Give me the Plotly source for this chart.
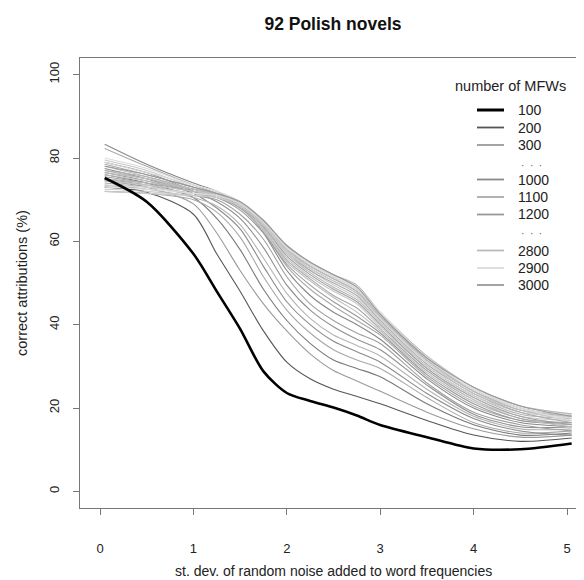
import plotly.graph_objects as go

# ---------------- data ----------------
noise_sd = [0.05, 0.5, 1.0, 1.25, 1.5, 1.75, 2.0, 2.25, 2.5, 2.75, 3.0, 3.5, 4.0, 4.5, 5.05]

acc_100 = [75.2, 69.5, 57.0, 48.0, 39.0, 28.8, 23.6, 21.7, 20.1, 18.2, 15.9, 13.0, 10.3, 10.1, 11.5]
acc_200 = [73.0, 71.8, 66.5, 57.0, 48.0, 38.5, 31.0, 27.0, 24.5, 22.8, 21.0, 17.0, 13.5, 12.0, 12.8]
acc_300 = [74.5, 73.0, 69.0, 62.0, 53.0, 45.0, 38.5, 33.0, 29.0, 26.5, 24.0, 19.0, 15.0, 13.0, 13.5]
acc_400 = [76.0, 74.0, 70.5, 65.5, 58.0, 48.5, 41.0, 35.5, 31.5, 29.5, 27.5, 21.0, 16.0, 13.5, 14.0]
acc_500 = [72.0, 71.5, 70.0, 67.0, 61.0, 51.5, 43.5, 38.0, 34.0, 31.5, 29.5, 22.5, 16.5, 14.0, 14.5]
acc_600 = [77.5, 75.0, 71.5, 68.0, 63.0, 54.0, 45.5, 40.0, 36.0, 33.5, 31.0, 23.5, 17.5, 14.5, 13.5]
acc_700 = [73.5, 72.5, 70.5, 68.5, 64.0, 56.0, 47.5, 41.5, 37.5, 35.0, 32.5, 24.5, 18.0, 15.0, 15.0]
acc_800 = [79.0, 76.5, 72.0, 69.5, 65.5, 58.5, 49.5, 43.5, 39.5, 36.5, 34.0, 25.5, 18.5, 15.5, 15.5]
acc_900 = [75.0, 73.5, 71.0, 70.0, 66.5, 60.5, 51.5, 45.0, 41.0, 38.0, 35.5, 26.0, 19.0, 16.0, 14.5]
acc_1000 = [83.3, 78.5, 74.0, 72.0, 68.5, 62.0, 53.0, 47.0, 43.0, 40.0, 36.5, 27.0, 20.0, 16.5, 15.5]
acc_1100 = [82.3, 78.0, 73.5, 71.5, 68.5, 62.5, 54.0, 48.5, 44.5, 41.0, 37.5, 27.5, 20.5, 17.0, 16.0]
acc_1200 = [76.5, 74.5, 72.0, 70.5, 67.5, 62.0, 54.5, 49.5, 45.5, 42.0, 38.0, 28.0, 21.0, 17.0, 16.5]
acc_1300 = [78.0, 75.5, 72.5, 71.0, 68.0, 62.5, 55.0, 50.5, 46.5, 43.0, 38.5, 28.5, 21.5, 17.5, 15.5]
acc_1400 = [74.0, 73.0, 71.5, 70.5, 68.0, 63.0, 55.5, 51.0, 47.0, 44.0, 39.0, 29.0, 22.0, 17.5, 16.5]
acc_1500 = [79.5, 77.0, 73.0, 71.5, 68.5, 63.0, 56.0, 51.5, 48.0, 45.0, 39.5, 29.5, 22.0, 18.0, 17.0]
acc_1600 = [75.5, 74.0, 72.0, 71.0, 68.5, 63.5, 56.5, 52.0, 48.5, 45.5, 40.0, 29.5, 22.5, 18.0, 16.0]
acc_1700 = [77.0, 75.5, 72.5, 71.5, 69.0, 63.5, 57.0, 52.5, 49.0, 46.0, 40.5, 30.0, 23.0, 18.5, 17.5]
acc_1800 = [72.5, 72.0, 71.0, 70.5, 68.5, 64.0, 57.0, 53.0, 49.5, 46.5, 40.5, 30.0, 23.0, 19.0, 18.0]
acc_1900 = [78.5, 76.0, 73.0, 71.5, 69.0, 64.0, 57.5, 53.0, 50.0, 47.0, 41.0, 30.5, 23.5, 19.0, 16.5]
acc_2000 = [76.0, 74.5, 72.5, 71.0, 69.0, 64.5, 58.0, 53.5, 50.5, 47.5, 41.5, 31.0, 23.5, 19.5, 17.0]
acc_2100 = [73.5, 73.0, 71.5, 71.0, 69.0, 64.5, 58.0, 54.0, 51.0, 48.0, 41.5, 31.0, 24.0, 19.5, 18.5]
acc_2200 = [77.0, 75.0, 72.5, 71.5, 69.5, 65.0, 58.5, 54.0, 51.0, 48.0, 42.0, 31.5, 24.0, 20.0, 17.5]
acc_2300 = [74.5, 73.5, 72.0, 71.0, 69.0, 64.5, 58.5, 54.5, 51.5, 48.5, 42.0, 31.5, 24.5, 20.0, 18.0]
acc_2400 = [79.0, 76.5, 73.5, 72.0, 69.5, 65.0, 59.0, 55.0, 52.0, 49.0, 42.5, 32.0, 24.5, 20.5, 18.5]
acc_2500 = [75.0, 74.0, 72.5, 71.5, 69.5, 65.0, 59.0, 55.0, 52.0, 49.5, 43.0, 32.5, 25.0, 20.5, 18.6]
acc_2600 = [72.0, 71.5, 71.0, 70.5, 68.5, 64.0, 57.5, 53.5, 50.5, 47.5, 42.0, 31.5, 24.0, 19.5, 17.0]
acc_2700 = [80.0, 77.5, 73.5, 72.0, 69.5, 65.0, 58.5, 54.5, 51.5, 48.5, 42.5, 32.0, 24.5, 20.0, 17.5]
acc_2800 = [76.5, 75.0, 72.5, 71.5, 69.0, 64.5, 58.0, 54.0, 51.0, 48.0, 42.0, 31.5, 24.0, 19.5, 18.0]
acc_2900 = [73.0, 72.5, 71.5, 71.0, 69.0, 64.5, 58.5, 54.5, 51.5, 49.0, 43.0, 32.0, 24.5, 20.0, 17.0]
acc_3000 = [78.0, 76.0, 73.0, 71.5, 69.5, 65.0, 59.0, 55.0, 52.0, 49.0, 42.5, 32.0, 25.0, 20.5, 18.0]

mfw_values = [100, 200, 300, 400, 500, 600, 700, 800, 900, 1000,
              1100, 1200, 1300, 1400, 1500, 1600, 1700, 1800, 1900, 2000,
              2100, 2200, 2300, 2400, 2500, 2600, 2700, 2800, 2900, 3000]
line_colors = ["#000000", "#555555", "#9a9a9a", "#7a7a7a", "#a8a8a8", "#8a8a8a",
               "#b4b4b4", "#909090", "#a0a0a0", "#888888", "#aaaaaa", "#999999",
               "#bcbcbc", "#a8a8a8", "#c8c8c8", "#a0a0a0", "#b4b4b4", "#cccccc",
               "#aaaaaa", "#c0c0c0", "#d4d4d4", "#b0b0b0", "#c4c4c4", "#d8d8d8",
               "#b6b6b6", "#cacaca", "#dcdcdc", "#bbbbbb", "#dddddd", "#999999"]

x_ticks = [0, 1, 2, 3, 4, 5]
y_ticks = [0, 20, 40, 60, 80, 100]

legend_labels = ["100", "200", "300", "...", "1000", "1100", "1200", "...", "2800", "2900", "3000"]

series = [acc_100, acc_200, acc_300, acc_400, acc_500, acc_600, acc_700, acc_800, acc_900, acc_1000,
          acc_1100, acc_1200, acc_1300, acc_1400, acc_1500, acc_1600, acc_1700, acc_1800, acc_1900, acc_2000,
          acc_2100, acc_2200, acc_2300, acc_2400, acc_2500, acc_2600, acc_2700, acc_2800, acc_2900, acc_3000]

# ---------------- layout geometry ----------------
# The page body has an 8px margin, so the figure starts at page pixel (8, 8).
OFF = 8
W, H = 584 - OFF, 580 - OFF
# plot-area edges expressed in page pixels
PL, PR, PT, PB = 80, 584, 58, 508
L, R, T, B = PL - OFF, PR - OFF, PT - OFF, PB - OFF
FONT = "Liberation Sans, Arial, Helvetica, sans-serif"
X0_PAGE, X_UNIT = 100.0, 93.4  # page pixel of x=0 and pixels per unit


def px(xp):
    """page pixel x -> paper fraction"""
    return (xp - PL) / (PR - PL)


def py(yp):
    """page pixel y -> paper fraction"""
    return (PB - yp) / (PB - PT)


fig = go.Figure()

order = list(range(1, len(series))) + [0]
for i in order:
    fig.add_trace(go.Scatter(
        x=noise_sd, y=series[i], mode="lines",
        line=dict(color=line_colors[i], width=2.6 if i == 0 else 1.1, shape="spline", smoothing=0.8),
        name=str(mfw_values[i]), showlegend=False, hoverinfo="skip"))

# legend drawn manually (R style)
legend_rows_y = [110, 127.5, 145, 165, 179.5, 197, 214.5, 234, 250.5, 268, 285]
annotations = []
shapes = []
annotations.append(dict(text="number of MFWs", x=px(510), y=py(86), xref="paper", yref="paper",
                        showarrow=False, xanchor="center", yanchor="middle",
                        font=dict(family=FONT, size=14.5, color="#222222")))
for lab, yy in zip(legend_labels, legend_rows_y):
    if lab == "...":
        annotations.append(dict(text="\u00b7  \u00b7  \u00b7", x=px(531), y=py(yy), xref="paper", yref="paper",
                                showarrow=False, xanchor="center", yanchor="middle",
                                font=dict(family=FONT, size=10, color="#555555")))
        continue
    idx = mfw_values.index(int(lab))
    shapes.append(dict(type="line", xref="paper", yref="paper",
                       x0=px(477), x1=px(504), y0=py(yy), y1=py(yy),
                       line=dict(color=line_colors[idx], width=3 if idx == 0 else 1.8)))
    annotations.append(dict(text=lab, x=px(516), y=py(yy), xref="paper", yref="paper",
                            showarrow=False, xanchor="left", yanchor="middle",
                            font=dict(family=FONT, size=14, color="#222222")))

# axis titles
annotations.append(dict(text="st. dev. of random noise added to word frequencies",
                        x=px(333), y=py(571), xref="paper", yref="paper", showarrow=False,
                        xanchor="center", yanchor="middle",
                        font=dict(family=FONT, size=14, color="#222222")))
annotations.append(dict(text="correct attributions (%)", x=px(22), y=py(283), xref="paper", yref="paper",
                        showarrow=False, textangle=-90, xanchor="center", yanchor="middle",
                        font=dict(family=FONT, size=14.5, color="#222222")))

fig.update_layout(
    width=W, height=H,
    margin=dict(l=L, r=W - R, t=T, b=H - B, pad=0),
    paper_bgcolor="white", plot_bgcolor="white",
    title=dict(text="<b>92 Polish novels</b>", x=(333 - OFF) / W, xanchor="center",
               y=1 - (24 - OFF) / H, yanchor="middle",
               font=dict(family=FONT, size=17.5, color="#111111")),
    annotations=annotations, shapes=shapes,
    font=dict(family=FONT, size=13, color="#222222"),
)
fig.update_xaxes(range=[(PL - X0_PAGE) / X_UNIT, (PR - X0_PAGE) / X_UNIT], tickvals=x_ticks,
                 ticks="outside", ticklen=6,
                 tickcolor="#777777", showline=True, linecolor="#777777", linewidth=1, mirror=True,
                 showgrid=False, zeroline=False, ticklabelstandoff=22,
                 tickfont=dict(family=FONT, size=13, color="#222222"))
fig.update_yaxes(range=[-4, 104], tickvals=y_ticks, ticks="outside", ticklen=6,
                 tickcolor="#777777", showline=True, linecolor="#777777", linewidth=1, mirror=True,
                 showgrid=False, zeroline=False, tickangle=-90, ticklabelstandoff=9,
                 tickfont=dict(family=FONT, size=13, color="#222222"))

fig.write_html("out.html")
